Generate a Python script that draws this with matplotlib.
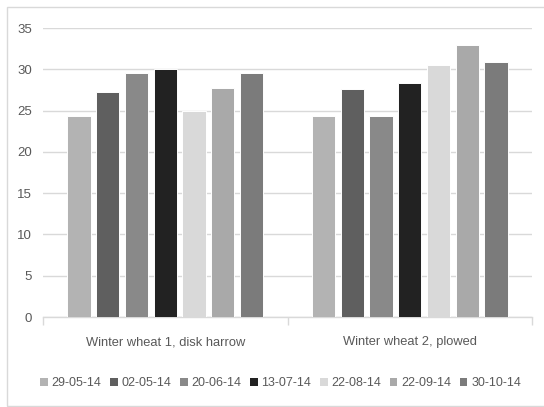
import matplotlib
matplotlib.use('Agg')
import matplotlib.pyplot as plt
from matplotlib.patches import Rectangle
import numpy as np

plt.rcParams['font.family'] = ['Liberation Sans', 'DejaVu Sans']

fields = ["Winter wheat 1, disk harrow", "Winter wheat 2, plowed"]
dates = ["29-05-14", "02-05-14", "20-06-14", "13-07-14", "22-08-14", "22-09-14", "30-10-14"]
# one list per sampling date: [wheat 1, wheat 2]
d_29_05 = [24.3, 24.4]
d_02_05 = [27.2, 27.6]
d_20_06 = [29.5, 24.3]
d_13_07 = [30.0, 28.4]
d_22_08 = [25.0, 30.5]
d_22_09 = [27.7, 33.0]
d_30_10 = [29.6, 30.9]
series = [d_29_05, d_02_05, d_20_06, d_13_07, d_22_08, d_22_09, d_30_10]
colors = ["#B3B3B3", "#5F5F5F", "#898989", "#222222", "#D9D9D9", "#A9A9A9", "#7B7B7B"]

grey_txt = "#595959"
grid_c = "#D9D9D9"

fig = plt.figure(figsize=(5.44, 4.07), dpi=100)
ax = fig.add_axes([0.079, 0.221, 0.899, 0.710])

x = np.arange(len(fields))
step = 0.1175
width = 0.095
for i, (vals, c, lab) in enumerate(zip(series, colors, dates)):
    ax.bar(x + (i - 3) * step, vals, width=width, color=c, edgecolor="white",
           linewidth=0.7, label=lab, zorder=3)

ax.set_xlim(-0.5, 1.5)
ax.set_ylim(0, 35)
ax.set_yticks(range(0, 36, 5))
ax.yaxis.grid(True, color=grid_c, linewidth=1.0)
ax.set_axisbelow(True)
for s in ["top", "right", "left"]:
    ax.spines[s].set_visible(False)
ax.spines["bottom"].set_color(grid_c)
ax.spines["bottom"].set_linewidth(1.0)
ax.tick_params(axis="y", length=0, pad=8, labelsize=9.5, labelcolor=grey_txt)

ax.set_xticks([-0.5, 0.5, 1.5])
ax.set_xticklabels([])
ax.tick_params(axis="x", which="major", length=6, color=grid_c, width=1.0)
ax.set_xticks(x, minor=True)
ax.set_xticklabels(fields, minor=True)
ax.tick_params(axis="x", which="minor", length=0, pad=14, labelsize=9.3,
               labelcolor=grey_txt)

leg = fig.legend(loc="center", bbox_to_anchor=(0.516, 0.059), ncol=7,
                 frameon=False, handlelength=0.6, handleheight=0.6,
                 handletextpad=0.3, columnspacing=0.7, fontsize=9)
for t in leg.get_texts():
    t.set_color(grey_txt)
for h in leg.legend_handles:
    h.set_edgecolor("none")

fig.patches.append(Rectangle((7 / 544, 1 / 407), 1.2, 399 / 407,
                             transform=fig.transFigure, fill=False,
                             edgecolor=grid_c, linewidth=1.0))

fig.savefig("out.png", dpi=100)
